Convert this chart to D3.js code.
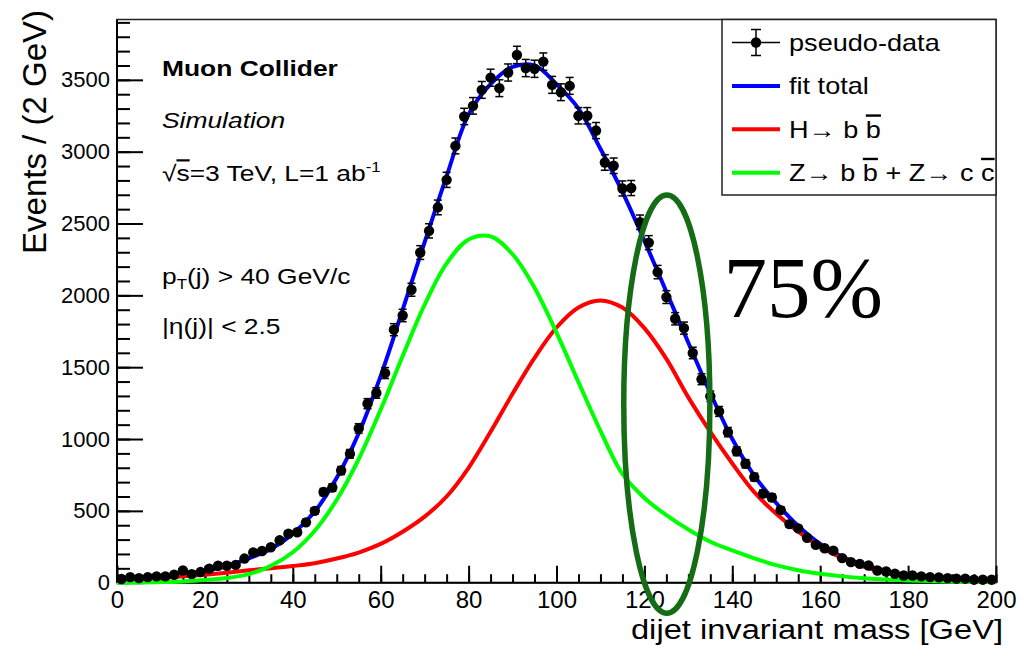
<!DOCTYPE html>
<html>
<head>
<meta charset="utf-8">
<script src="https://cdn.jsdelivr.net/npm/d3@7"></script>
<style>
  body { margin: 0; background: #fff; }
  text { font-family: "Liberation Sans", Arial, sans-serif; fill: #000; }
</style>
</head>
<body>
<div id="chart"></div>
<script>
const width = 1021, height = 646;
// plot frame in pixels
const frameLeft = 117, frameRight = 996, frameTop = 19.5, frameBottom = 582.7;

// axis tick labels
const xTickLabels = [0, 20, 40, 60, 80, 100, 120, 140, 160, 180, 200];
const yTickLabels = [0, 500, 1000, 1500, 2000, 2500, 3000, 3500];

// pseudo-data, events per 2 GeV bin, bins centred at 1, 3, ..., 199 GeV
const binCentres = d3.range(1, 200, 2);
const pseudoData = [
  26, 39, 32, 39, 44, 44, 55, 85, 60, 74,
  97, 118, 118, 124, 168, 210, 221, 247, 295, 341,
  351, 420, 500, 631, 662, 781, 897, 1074, 1246, 1320,
  1459, 1761, 1860, 2039, 2298, 2449, 2612, 2804, 3040, 3245,
  3319, 3430, 3515, 3442, 3551, 3673, 3582, 3577, 3627, 3465,
  3414, 3458, 3250, 3250, 3147, 2925, 2902, 2744, 2747, 2509,
  2367, 2162, 1988, 1837, 1772, 1599, 1416, 1298, 1192, 1048,
  915, 828, 735, 620, 593, 505, 408, 378, 313, 263,
  240, 223, 171, 143, 131, 120, 85, 78, 62, 50,
  50, 44, 39, 37, 32, 28, 28, 21, 21, 21
];

// fitted curves read every 5 GeV from 0 to 200
const curveMass = d3.range(0, 201, 5);
const fitTotal = [
  22, 30, 40, 58, 82, 115, 170, 235, 340, 495,
  730, 1040, 1440, 1900, 2370, 2830, 3260, 3470, 3590, 3600,
  3470, 3300, 3020, 2720, 2380, 2025, 1670, 1320, 1000, 745,
  555, 395, 270, 180, 125, 82, 52, 40, 30, 22, 18
];
const higgsBB = [
  18, 24, 32, 44, 56, 70, 86, 100, 116, 136,
  168, 210, 270, 355, 460, 600, 800, 1050, 1315, 1565,
  1776, 1916, 1965, 1915, 1772, 1558, 1290, 1050, 830, 630,
  480, 355, 250, 170, 110, 70, 46, 31, 21, 15, 10
];
const zBBCC = [
  1, 2, 4, 9, 18, 33, 60, 117, 212, 362,
  577, 861, 1205, 1578, 1935, 2222, 2389, 2410, 2286, 2053,
  1741, 1396, 1057, 757, 590, 470, 370, 285, 225, 170,
  122, 87, 62, 44, 31, 23, 16, 11, 7, 5, 3
];

// hand-drawn highlight round the Higgs peak (data units)
const ringMass = 125.1, ringEvents = 1243, ringHalfGeV = 9.8, ringHalfEvents = 1456;

const svg = d3.select("#chart").append("svg")
    .attr("width", width)
    .attr("height", height);

const x = d3.scaleLinear().domain([0, 200]).range([frameLeft, frameRight]);
const y = d3.scaleLinear().domain([0, 3920]).range([frameBottom, frameTop]);

// helper for text pieces with sub/superscripts and bars, stretched sideways like the picture
function richText(parent, px, py, pieces, size, sx) {
    const t = parent.append("text")
        .attr("transform", "translate(" + px + "," + py + ") scale(" + sx + ",1)")
        .style("font-size", size + "px");
    let shift = 0;
    pieces.forEach(function (p) {
        const ts = t.append("tspan").text(p.t);
        const s = p.shift || 0;
        if (s !== shift) ts.attr("dy", s - shift);
        shift = s;
        if (p.size) ts.style("font-size", p.size + "px");
        if (p.bar) ts.style("text-decoration", "overline");
        if (p.weight) ts.style("font-weight", p.weight);
        if (p.italic) ts.style("font-style", "italic");
    });
    return t;
}

// frame
svg.append("rect")
    .attr("x", frameLeft).attr("y", frameTop)
    .attr("width", frameRight - frameLeft).attr("height", frameBottom - frameTop)
    .attr("fill", "none").attr("stroke", "#222").attr("stroke-width", 1.5);

// axes, ticks pointing inwards
function styleAxis(g) {
    g.select(".domain").remove();
    g.attr("font-family", null).attr("font-size", null);
    g.selectAll("line").attr("stroke", "#000").attr("stroke-width", 2);
}

svg.append("g")
    .attr("transform", "translate(" + frameLeft + ",0)")
    .call(d3.axisLeft(y).tickValues(d3.range(0, 3901, 100)).tickSize(-13).tickFormat(""))
    .call(styleAxis);
svg.append("g")
    .attr("transform", "translate(" + frameLeft + ",0)")
    .call(d3.axisLeft(y).tickValues(yTickLabels).tickSize(-26).tickPadding(7).tickFormat(d3.format("d")))
    .call(styleAxis)
    .selectAll("text").style("font-size", "22px");

svg.append("g")
    .attr("transform", "translate(0," + frameBottom + ")")
    .call(d3.axisBottom(x).tickValues(d3.range(0, 201, 5)).tickSize(-8.5).tickFormat(""))
    .call(styleAxis);
svg.append("g")
    .attr("transform", "translate(0," + frameBottom + ")")
    .call(d3.axisBottom(x).tickValues(xTickLabels).tickSize(-17).tickPadding(8).tickFormat(d3.format("d")))
    .call(styleAxis)
    .selectAll("text").style("font-size", "24px");

svg.append("line")
    .attr("x1", frameLeft).attr("x2", frameLeft).attr("y1", frameTop).attr("y2", frameBottom)
    .attr("stroke", "#000").attr("stroke-width", 2);
svg.append("line")
    .attr("x1", frameLeft).attr("x2", frameRight).attr("y1", frameBottom).attr("y2", frameBottom)
    .attr("stroke", "#000").attr("stroke-width", 2);

// axis titles
svg.append("text")
    .attr("transform", "translate(46,10) rotate(-90)")
    .attr("text-anchor", "end")
    .style("font-size", "33px")
    .text("Events / (2 GeV)");
richText(svg, 1003, 639, [{ t: "dijet invariant mass [GeV]" }], 27, 1.21)
    .attr("text-anchor", "end");

// fit curves
const line = function (values) {
    return d3.line()
        .x(function (d, i) { return x(curveMass[i]); })
        .y(function (d) { return y(d); })
        .curve(d3.curveCatmullRom.alpha(0.5))(values);
};
const curves = [
    { values: fitTotal, color: "#0000ff" },
    { values: higgsBB, color: "#ff0000" },
    { values: zBBCC, color: "#00ff00" }
];
svg.append("g").selectAll("path")
    .data(curves)
    .enter()
    .append("path")
    .attr("d", function (d) { return line(d.values); })
    .attr("fill", "none")
    .attr("stroke", function (d) { return d.color; })
    .attr("stroke-width", 4);

// pseudo-data with Poisson error bars
const points = svg.append("g").selectAll("g")
    .data(pseudoData)
    .enter()
    .append("g");
points.append("line")
    .attr("x1", function (d, i) { return x(binCentres[i]); })
    .attr("x2", function (d, i) { return x(binCentres[i]); })
    .attr("y1", function (d) { return y(d + Math.sqrt(d)); })
    .attr("y2", function (d) { return y(d - Math.sqrt(d)); })
    .attr("stroke", "#000").attr("stroke-width", 1.5);
[1, -1].forEach(function (sgn) {
    points.append("line")
        .attr("x1", function (d, i) { return x(binCentres[i]) - 4; })
        .attr("x2", function (d, i) { return x(binCentres[i]) + 4; })
        .attr("y1", function (d) { return y(d + sgn * Math.sqrt(d)); })
        .attr("y2", function (d) { return y(d + sgn * Math.sqrt(d)); })
        .attr("stroke", "#000").attr("stroke-width", 1.5);
});
points.append("circle")
    .attr("cx", function (d, i) { return x(binCentres[i]); })
    .attr("cy", function (d) { return y(d); })
    .attr("r", 5.2)
    .attr("fill", "#000");

// labels in the top left
const noteX = 162;
richText(svg, noteX, 76, [{ t: "Muon Collider", weight: "bold" }], 22, 1.2);
richText(svg, noteX, 128, [{ t: "Simulation", italic: true }], 22, 1.2);
richText(svg, noteX, 181, [
    { t: "√" }, { t: "s", bar: true }, { t: "=3 TeV, L=1 ab" },
    { t: "-1", shift: -9, size: 14 }
], 22, 1.2);
richText(svg, noteX, 284, [
    { t: "p" }, { t: "T", shift: 5, size: 14 }, { t: "(j) > 40 GeV/c" }
], 22, 1.2);
richText(svg, noteX, 334, [{ t: "|η(j)| < 2.5" }], 22, 1.2);

// legend
const legendLeft = 722, legendBottom = 195;
const legendEntries = [
    { kind: "data", pieces: [{ t: "pseudo-data" }] },
    { kind: "line", color: "#0000ff", pieces: [{ t: "fit total" }] },
    { kind: "line", color: "#ff0000", pieces: [{ t: "H→ b " }, { t: "b", bar: true }] },
    { kind: "line", color: "#00ff00", pieces: [{ t: "Z→ b " }, { t: "b", bar: true }, { t: " + Z→ c " }, { t: "c", bar: true }] }
];
const legend = svg.append("g");
legend.append("rect")
    .attr("x", legendLeft).attr("y", frameTop)
    .attr("width", frameRight - legendLeft).attr("height", legendBottom - frameTop)
    .attr("fill", "#fff").attr("stroke", "#222").attr("stroke-width", 1.5);
legendEntries.forEach(function (e, i) {
    const cy = frameTop + 23 + i * 43.4;
    if (e.kind === "data") {
        legend.append("line").attr("x1", 732).attr("x2", 780).attr("y1", cy).attr("y2", cy)
            .attr("stroke", "#000").attr("stroke-width", 1.5);
        legend.append("line").attr("x1", 756).attr("x2", 756).attr("y1", cy - 13).attr("y2", cy + 13)
            .attr("stroke", "#000").attr("stroke-width", 1.5);
        [-13, 13].forEach(function (o) {
            legend.append("line").attr("x1", 751).attr("x2", 761).attr("y1", cy + o).attr("y2", cy + o)
                .attr("stroke", "#000").attr("stroke-width", 1.5);
        });
        legend.append("circle").attr("cx", 756).attr("cy", cy).attr("r", 5.2).attr("fill", "#000");
    } else {
        legend.append("line").attr("x1", 732).attr("x2", 780).attr("y1", cy).attr("y2", cy)
            .attr("stroke", e.color).attr("stroke-width", 4);
    }
    richText(legend, 789, cy + 8.5, e.pieces, 24, 1.13);
});

// highlight ring and the 75% note
svg.append("ellipse")
    .attr("cx", x(ringMass))
    .attr("cy", y(ringEvents))
    .attr("rx", x(ringMass + ringHalfGeV) - x(ringMass))
    .attr("ry", y(0) - y(ringHalfEvents))
    .attr("fill", "none")
    .attr("stroke", "#146c14")
    .attr("stroke-width", 5.5);
svg.append("text")
    .attr("x", x(138))
    .attr("y", y(1850))
    .style("font-family", "'Liberation Serif', 'DejaVu Serif', serif")
    .style("font-size", "87px")
    .text("75%");
</script>
</body>
</html>
